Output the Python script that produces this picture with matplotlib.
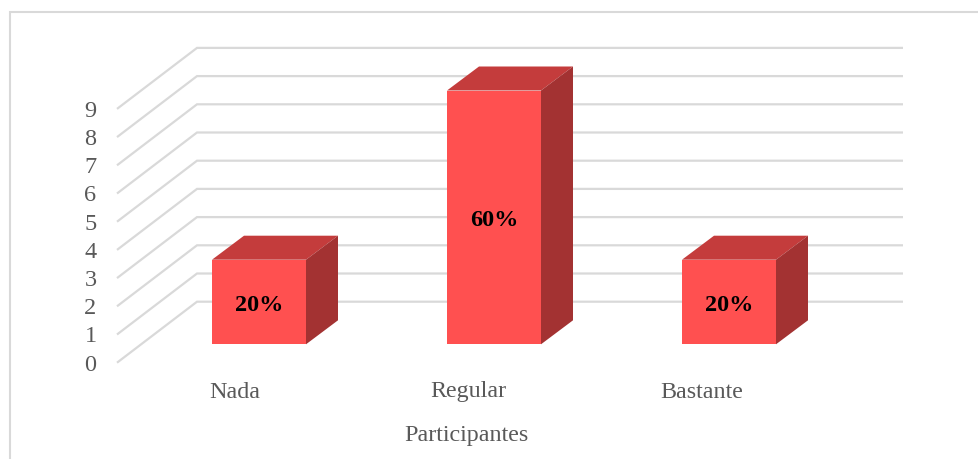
import matplotlib
matplotlib.use("Agg")
import matplotlib.pyplot as plt
from matplotlib.patches import Polygon, Rectangle

categories = ["Nada", "Regular", "Bastante"]
values = [3, 9, 3]
labels = ["20%", "60%", "20%"]
ticks = list(range(10))
x_title = "Participantes"

W, H = 979, 459
plt.rcParams['font.family'] = ['Liberation Serif', 'DejaVu Serif']
fig = plt.figure(figsize=(W/100, H/100), dpi=100)
ax = fig.add_axes([0, 0, 1, 1])
UX, UY = 235.0, 28.2
X0, Y0 = 259.0, 344.3
ax.set_xlim((0-X0)/UX, (W-X0)/UX)
ax.set_ylim((Y0-H)/UY, Y0/UY)
ax.axis("off")
px = lambda v: v/UX
py = lambda v: v/UY

fig.add_artist(Rectangle((10/W, -0.01), 1.0, 1-12/H+0.01, transform=fig.transFigure,
                         fill=False, edgecolor="#d9d9d9", lw=1.5))

fx = px(117-X0)
bx = px(197-X0)
ex = px(903-X0)
fdrop = py(18.4)    # front edge of the wall floor sits below the bar base
bup = py(42.6)
for t in ticks:
    ax.plot([fx, bx, ex], [t-fdrop, t+bup, t+bup], color="#d9d9d9", lw=1.6, zorder=1,
            solid_joinstyle="miter", solid_capstyle="butt")
    ax.text(px(96.5-X0), t-fdrop-py(2.5), str(t), ha="right", va="center", fontsize=17.5, color="#595959")

bw = 94/UX
dx, dy = px(32), py(24)
for i, (v, lab) in enumerate(zip(values, labels)):
    ax.bar(i, v, width=bw, color="#ff5050", zorder=3, linewidth=0)
    l, r = i-bw/2, i+bw/2
    ax.add_patch(Polygon([(l, v), (r, v), (r+dx, v+dy), (l+dx, v+dy)], closed=True, fc="#c43c3c", ec="none", zorder=3))
    ax.add_patch(Polygon([(r, 0), (r+dx, dy), (r+dx, v+dy), (r, v)], closed=True, fc="#a33232", ec="none", zorder=3))
    ax.text(i, v/2-py(3.5), lab, ha="center", va="center", fontsize=17.5, fontweight="bold", color="black", zorder=4)

for i, c in enumerate(categories):
    ax.text(i*0.9935-0.102, py(Y0-392), c, ha="center", va="center", fontsize=17.3, color="#595959")
ax.text(px(466.5-X0), py(Y0-435), x_title, ha="center", va="center", fontsize=17.3, color="#595959")

fig.savefig("out.png", dpi=100)
